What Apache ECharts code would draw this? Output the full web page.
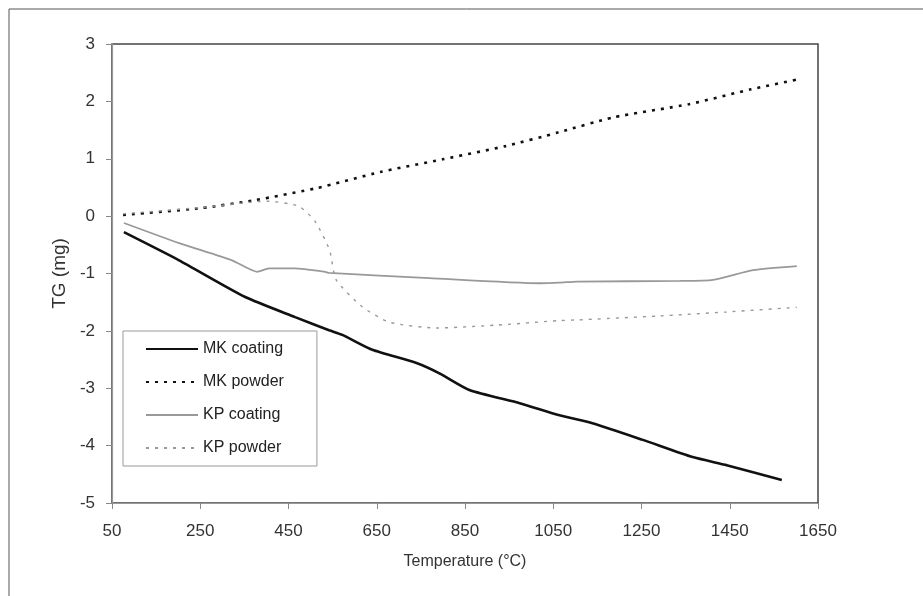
<!DOCTYPE html>
<html><head><meta charset="utf-8">
<script src="https://cdn.jsdelivr.net/npm/echarts@6/dist/echarts.min.js"></script>
<style>html,body{margin:0;padding:0;background:#fff}#c{width:923px;height:596px}</style>
</head><body><div id="c"></div>
<script>
const xTicksMin = 50, xTicksMax = 1650, xStep = 200;
const yMin = -5, yMax = 3, yStep = 1;

const mkCoatingT = [77, 202, 352, 465, 542, 572, 640, 740, 792, 860, 974, 1064, 1139, 1253, 1366, 1443, 1568];
const mkCoatingV = [-0.28, -0.77, -1.41, -1.76, -1.99, -2.07, -2.33, -2.56, -2.74, -3.03, -3.26, -3.47, -3.61, -3.9, -4.2, -4.34, -4.6];

const mkPowderT = [75, 252, 375, 515, 658, 799, 942, 1062, 1185, 1357, 1498, 1609];
const mkPowderV = [0.02, 0.14, 0.28, 0.49, 0.77, 0.99, 1.22, 1.46, 1.72, 1.95, 2.21, 2.39];

const kpCoatingT = [77, 202, 322, 379, 406, 465, 533, 542, 769, 1019, 1064, 1103, 1337, 1412, 1503, 1602];
const kpCoatingV = [-0.12, -0.47, -0.77, -0.97, -0.91, -0.91, -0.97, -0.99, -1.08, -1.17, -1.16, -1.14, -1.13, -1.11, -0.94, -0.87];

const kpPowderT = [75, 250, 374, 404, 474, 511, 543, 558, 617, 679, 785, 921, 1064, 1103, 1291, 1443, 1602];
const kpPowderV = [0.04, 0.15, 0.25, 0.26, 0.17, -0.1, -0.59, -1.11, -1.58, -1.85, -1.95, -1.9, -1.82, -1.81, -1.74, -1.67, -1.59];

const seriesNames = ['MK coating', 'MK powder', 'KP coating', 'KP powder'];
const zip = (a, b) => a.map((t, i) => [t, b[i]]);

const chart = echarts.init(document.getElementById('c'));
const font = 'Liberation Sans, Arial, sans-serif';
chart.setOption({
  animation: false,
  backgroundColor: '#fff',
  graphic: [{type: 'rect', shape: {x: 9, y: 9, width: 950, height: 620}, style: {fill: 'none', stroke: '#555', lineWidth: 1}, silent: true}],
  grid: {left: 112, right: 105, top: 44, bottom: 93, show: true, borderColor: '#444', borderWidth: 1.5, backgroundColor: 'transparent'},
  legend: {
    orient: 'vertical', left: 123, top: 331,
    padding: [10, 33, 10, 22], itemGap: 17, itemWidth: 52, itemHeight: 18,
    backgroundColor: '#fff', borderColor: '#999', borderWidth: 1,
    itemStyle: {opacity: 0},
    textStyle: {fontFamily: font, fontSize: 16, color: '#222'},
    data: seriesNames
  },
  xAxis: {
    type: 'value', min: xTicksMin, max: xTicksMax, interval: xStep,
    name: 'Temperature (°C)', nameLocation: 'middle', nameGap: 51,
    nameTextStyle: {fontFamily: font, fontSize: 16, color: '#333'},
    axisLine: {onZero: false, lineStyle: {color: '#999', width: 1.2}},
    axisTick: {show: true, length: 6, lineStyle: {color: '#888'}},
    axisLabel: {fontFamily: font, fontSize: 17, color: '#333', margin: 20, formatter: v => String(v)},
    splitLine: {show: false}
  },
  yAxis: {
    type: 'value', min: yMin, max: yMax, interval: yStep,
    name: 'TG (mg)', nameLocation: 'middle', nameGap: 41, nameRotate: 90,
    nameTextStyle: {fontFamily: font, fontSize: 19, color: '#333'},
    axisLine: {show: true, onZero: false, lineStyle: {color: '#999', width: 1.2}},
    axisTick: {show: true, length: 6, lineStyle: {color: '#888'}},
    axisLabel: {fontFamily: font, fontSize: 17, color: '#333', margin: 17, formatter: v => String(v)},
    splitLine: {show: false}
  },
  series: [
    {name: seriesNames[0], type: 'line', showSymbol: false, symbol: 'none', smooth: 0.2, data: zip(mkCoatingT, mkCoatingV),
     lineStyle: {color: '#111', width: 2.6}, itemStyle: {color: '#111'}},
    {name: seriesNames[1], type: 'line', showSymbol: false, symbol: 'none', smooth: 0.2, data: zip(mkPowderT, mkPowderV),
     lineStyle: {color: '#111', width: 2.6, type: [3, 6]}, itemStyle: {color: '#111'}},
    {name: seriesNames[2], type: 'line', showSymbol: false, symbol: 'none', smooth: 0.2, data: zip(kpCoatingT, kpCoatingV),
     lineStyle: {color: '#999', width: 1.8}, itemStyle: {color: '#999'}},
    {name: seriesNames[3], type: 'line', showSymbol: false, symbol: 'none', smooth: 0.2, data: zip(kpPowderT, kpPowderV),
     lineStyle: {color: '#999', width: 1.4, type: [3, 6]}, itemStyle: {color: '#999'}}
  ]
});
</script></body></html>
